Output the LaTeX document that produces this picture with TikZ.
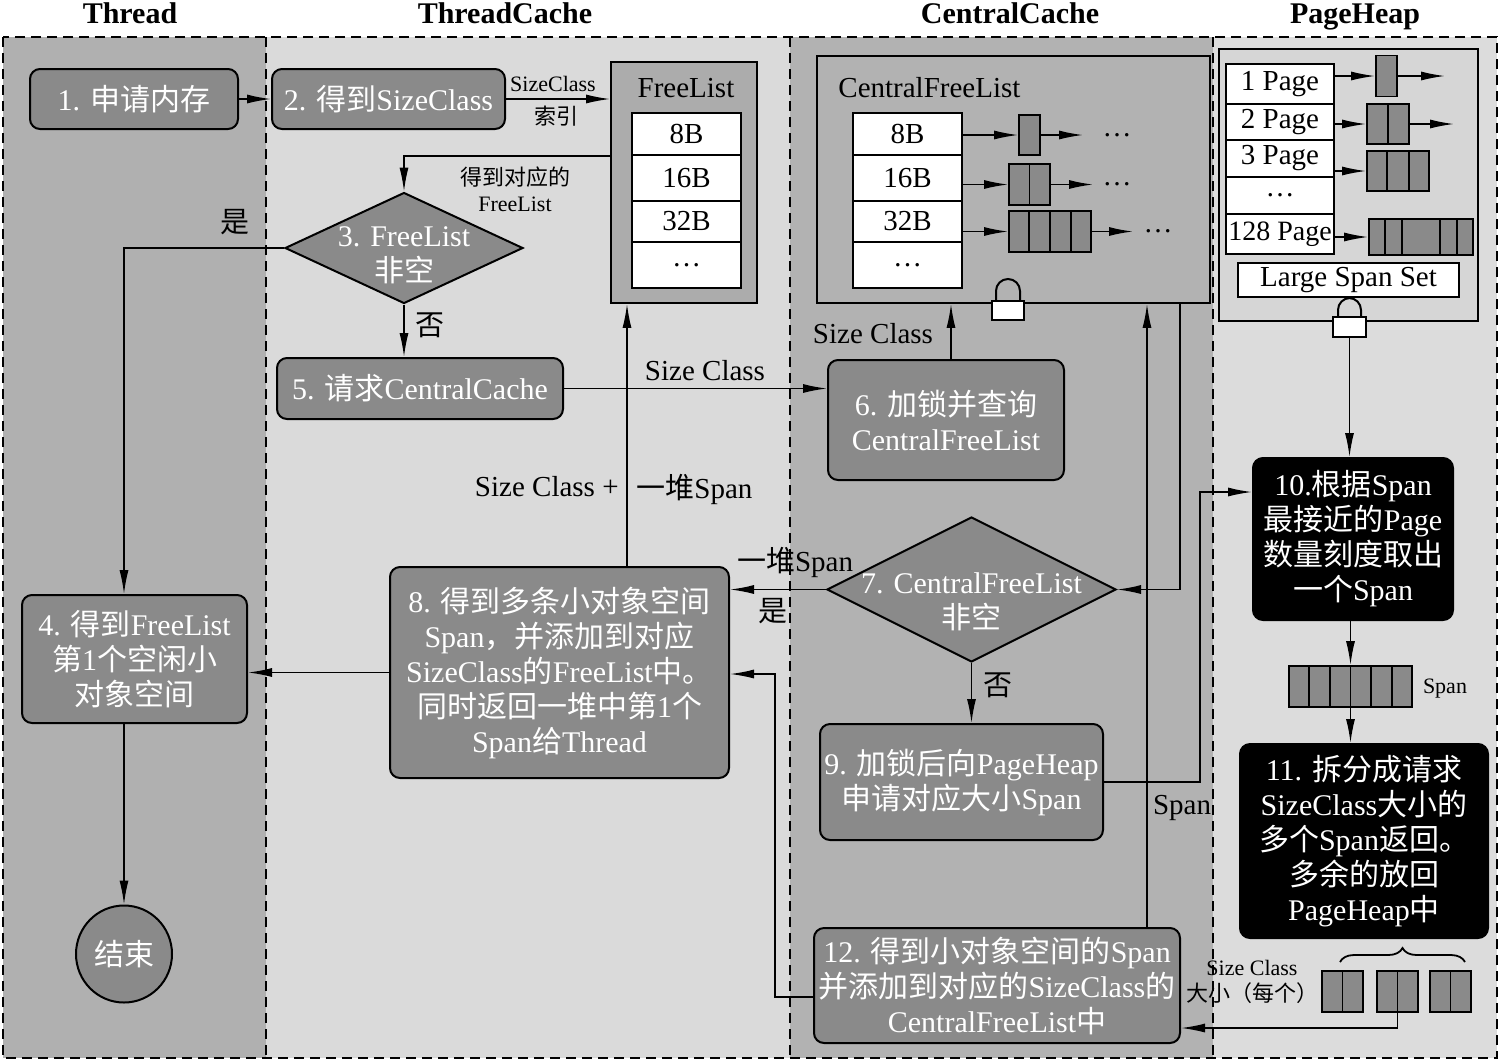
\documentclass[tikz,border=0pt]{standalone}
\usepackage{fontspec}
\setmainfont{Liberation Serif}
\newfontfamily\cjkf{Noto Sans CJK SC}
\usetikzlibrary{arrows.meta,shapes.geometric,calc,decorations.pathreplacing}
\newcommand\zw[1]{{\cjkf #1}}
\newcommand\fBox{\fontsize{15}{17.5}\selectfont}
\newcommand\fCell{\fontsize{14.5}{16}\selectfont}
\newcommand\fSmall{\fontsize{11}{13}\selectfont}
\newcommand\fMid{\fontsize{14.5}{16}\selectfont}
\newcommand\fHead{\fontsize{15}{18}\selectfont\bfseries}
\newcommand\blkdiv[2]{\foreach \f in {#2}{\draw[divl] ($(#1.north west)!\f!(#1.north east)$) -- ($(#1.south west)!\f!(#1.south east)$);}}
\definecolor{colA}{RGB}{176,176,176}
\definecolor{colB}{RGB}{218,218,218}
\definecolor{colC}{RGB}{178,178,178}
\definecolor{colD}{RGB}{220,220,220}
\definecolor{boxg}{RGB}{138,138,138}
\definecolor{medg}{RGB}{172,172,172}
\definecolor{phg}{RGB}{214,214,214}
\tikzset{
 procbox/.style={draw=black, line width=1pt, fill=boxg, rounded corners=5pt, text=white, align=center, inner sep=0pt, font=\fBox},
 blackbox/.style={procbox, fill=black},
 dia/.style={draw=black, line width=1pt, fill=boxg, diamond, inner sep=0pt},
 wtxt/.style={text=white, align=center, font=\fBox, inner sep=0pt},
 cellbox/.style={draw=black, line width=0.9pt, fill=white, inner sep=0pt, font=\fCell, minimum width=54.5pt},
 spanblk/.style={draw=black, line width=0.9pt, fill=boxg, inner sep=0pt},
 outerbox/.style={draw=black, line width=0.9pt, inner sep=0pt},
 arw/.style={line width=0.75pt, -{Latex[length=12pt,width=4.5pt]}},
 plain/.style={line width=0.75pt},
 divl/.style={line width=0.9pt},
 smalltxt/.style={font=\fSmall, inner sep=1pt, align=center},
 midtxt/.style={font=\fMid, inner sep=1pt, align=center},
 headtxt/.style={font=\fHead, inner sep=0pt, anchor=base},
 lockbody/.style={draw=black, line width=1pt, fill=white, inner sep=0pt},
 framel/.style={line width=1pt, dash pattern=on 5pt off 3pt},
}
\begin{document}
\begin{tikzpicture}[x=0.5pt,y=-0.5pt]
\useasboundingbox (0,0) rectangle (1500,1062);
\fill[white] (0,0) rectangle (1500,1062);
% columns
\fill[colA] (3,37) rectangle (266,1058);
\fill[colB] (266,37) rectangle (790,1058);
\fill[colC] (790,37) rectangle (1213,1058);
\fill[colD] (1213,37) rectangle (1497,1058);
\draw[framel] (3,37) rectangle (1497,1058);
\draw[framel] (266,37) -- (266,1058);
\draw[framel] (790,37) -- (790,1058);
\draw[framel] (1213,37) -- (1213,1058);
% headings
\node[headtxt] (hT) at (130,23) {Thread};
\node[headtxt] (hTC) at (505,23) {ThreadCache};
\node[headtxt] (hCC) at (1010,23) {CentralCache};
\node[headtxt] (hPH) at (1355,23) {PageHeap};

% FreeList (ThreadCache)
\node[outerbox, fill=medg, minimum width=73pt, minimum height=120.5pt] (fl) at (684,182.5) {};
\node[midtxt] (flt) at (686,88) {FreeList};
\node[cellbox, minimum height=21pt] (f8) at (686.5,134) {8B};
\node[cellbox, minimum height=23pt] (f16) at (686.5,178) {16B};
\node[cellbox, minimum height=20.5pt] (f32) at (686.5,221.5) {32B};
\node[cellbox, minimum height=23pt] (fdots) at (686.5,265) {…};

% CentralFreeList
\node[outerbox, fill=colC, minimum width=196.5pt, minimum height=123.5pt] (cfl) at (1013.5,179.5) {};
\node[midtxt, anchor=west] (cflt) at (836,88) {CentralFreeList};
\node[cellbox, minimum height=21pt] (c8) at (907.5,134) {8B};
\node[cellbox, minimum height=23pt] (c16) at (907.5,178) {16B};
\node[cellbox, minimum height=20.5pt] (c32) at (907.5,221.5) {32B};
\node[cellbox, minimum height=23pt] (cdots) at (907.5,265) {…};
\node[spanblk, minimum width=10.5pt, minimum height=20pt] (s8) at (1029.5,135) {};
\node[spanblk, minimum width=20.5pt, minimum height=20.5pt] (s16) at (1029.5,184.5) {};
\node[spanblk, minimum width=41pt, minimum height=20.5pt] (s32) at (1050,231.5) {};
\blkdiv{s16}{0.5}
\blkdiv{s32}{0.25,0.5,0.75}
\coordinate (e8) at (1083,135);
\coordinate (e16) at (1093,184.5);
\coordinate (e32) at (1133,231.5);
\node[midtxt] (d8) at (1117,135) {…};
\node[midtxt] (d16) at (1117,184.5) {…};
\node[midtxt] (d32) at (1158,231.5) {…};
\draw[arw] (c8.east |- s8.west) -- (s8.west);
\draw[arw] (s8.east) -- (e8);
\draw[arw] (c16.east |- s16.west) -- (s16.west);
\draw[arw] (s16.east) -- (e16);
\draw[arw] (c32.east |- s32.west) -- (s32.west);
\draw[arw] (s32.east) -- (e32);
% lock 1
\draw[line width=1pt, rounded corners=6pt] (996,302) -- (996,279) -- (1020,279) -- (1020,302);
\node[lockbody, minimum width=16pt, minimum height=9.5pt] (lk1) at (1008,310.5) {};

% PageHeap
\node[outerbox, fill=phg, minimum width=129.5pt, minimum height=136pt] (phb) at (1348.5,185) {};
\node[cellbox, minimum width=54pt, minimum height=20pt] (pc1) at (1280,84) {1 Page};
\node[cellbox, minimum width=54pt, minimum height=18pt] (pc2) at (1280,122) {2 Page};
\node[cellbox, minimum width=54pt, minimum height=18.5pt] (pc3) at (1280,158.5) {3 Page};
\node[cellbox, minimum width=54pt, minimum height=18.5pt] (pcd) at (1280,195.5) {…};
\node[cellbox, minimum width=54pt, minimum height=20pt, font=\fontsize{14}{16}\selectfont] (pc128) at (1280,234) {128 Page};
\node[spanblk, minimum width=10.5pt, minimum height=20.5pt] (pb1) at (1386.5,76) {};
\node[spanblk, minimum width=21pt, minimum height=20pt] (pb2) at (1388,124) {};
\node[spanblk, minimum width=31pt, minimum height=20pt] (pb3) at (1398,171) {};
\node[spanblk, minimum width=52pt, minimum height=18pt] (pb128) at (1421,237) {};
\blkdiv{pb2}{0.5}
\blkdiv{pb3}{0.3333,0.6667}
\blkdiv{pb128}{0.163,0.317,0.683,0.837}
\coordinate (pe1) at (1445,76);
\coordinate (pe2) at (1454,124);
\draw[arw] (pc1.east |- pb1.west) -- (pb1.west);
\draw[arw] (pb1.east) -- (pe1);
\draw[arw] (pc2.east |- pb2.west) -- (pb2.west);
\draw[arw] (pb2.east) -- (pe2);
\draw[arw] (pc3.east |- pb3.west) -- (pb3.west);
\draw[arw] (pc128.east |- pb128.west) -- (pb128.west);
\node[cellbox, minimum width=110.5pt, minimum height=17pt] (lss) at (1348.5,280) {Large Span Set};
% lock 2
\draw[line width=1pt, rounded corners=6pt] (1338,318) -- (1338,298) -- (1361,298) -- (1361,318);
\node[lockbody, minimum width=16.5pt, minimum height=10pt] (lk2) at (1349.5,327) {};

% process nodes
\node[procbox, minimum width=104pt, minimum height=30pt] (b1) at (134,99) {1. \zw{申请内存}};
\node[procbox, minimum width=116.5pt, minimum height=30pt] (b2) at (388.5,99) {2. \zw{得到}SizeClass};
\node[dia, minimum width=119pt, minimum height=55.5pt] (d3) at (404,248) {};
\node[wtxt] (d3t) at (404,255) {3. FreeList\\\zw{非空}};
\node[procbox, minimum width=112.5pt, minimum height=64pt] (b4) at (134.5,659) {4. \zw{得到}FreeList\\\zw{第}1\zw{个空闲小}\\\zw{对象空间}};
\node[draw=black, line width=1pt, fill=boxg, ellipse, minimum width=48pt, minimum height=48.5pt, inner sep=0pt, text=white, font=\fBox] (endc) at (124,954) {\zw{结束}};
\node[procbox, minimum width=143pt, minimum height=30.5pt] (b5) at (420,388.5) {5. \zw{请求}CentralCache};
\node[procbox, minimum width=118pt, minimum height=60pt] (b6) at (946,420) {6. \zw{加锁并查询}\\CentralFreeList};
\node[dia, minimum width=144.5pt, minimum height=72.5pt] (d7) at (971.5,589.5) {};
\node[wtxt] (d7t) at (971.5,602) {7. CentralFreeList\\\zw{非空}};
\node[procbox, minimum width=169.5pt, minimum height=105.5pt] (b8) at (559.5,672.5) {8. \zw{得到多条小对象空间}\\Span\zw{，并添加到对应}\\SizeClass\zw{的}FreeList\zw{中。}\\\zw{同时返回一堆中第}1\zw{个}\\Span\zw{给}Thread};
\node[procbox, minimum width=141.5pt, minimum height=58pt] (b9) at (961.5,782) {9. \zw{加锁后向}PageHeap\\\zw{申请对应大小}Span};
\node[blackbox, minimum width=100pt, minimum height=81pt] (b10) at (1353,539) {10.\zw{根据}Span\\\zw{最接近的}Page\\\zw{数量刻度取出}\\\zw{一个}Span};
\node[spanblk, minimum width=61.5pt, minimum height=20.5pt] (spn) at (1350.5,686.5) {};
\blkdiv{spn}{0.1667,0.3333,0.5,0.6667,0.8333}
\node[smalltxt] (spnl) at (1445,689) {Span};
\node[blackbox, minimum width=124pt, minimum height=97pt] (b11) at (1364,841) {11. \zw{拆分成请求}\\SizeClass\zw{大小的}\\\zw{多个}Span\zw{返回。}\\\zw{多余的放回}\\PageHeap\zw{中}};
\node[spanblk, minimum width=20.5pt, minimum height=20.5pt] (q1) at (1342.5,991.5) {};
\node[spanblk, minimum width=20.5pt, minimum height=20.5pt] (q2) at (1397.5,991.5) {};
\node[spanblk, minimum width=20.5pt, minimum height=20.5pt] (q3) at (1450.5,991.5) {};
\blkdiv{q1}{0.5}
\blkdiv{q2}{0.5}
\blkdiv{q3}{0.5}
\draw[line width=0.9pt, decorate, decoration={brace, amplitude=7pt}] (1340,962) -- (1465,962);
\node[smalltxt] (scl) at (1252,982) {Size Class\\\zw{大小（每个）}};
\node[procbox, minimum width=183pt, minimum height=57.5pt] (b12) at (997,985.5) {12. \zw{得到小对象空间的}Span\\\zw{并添加到对应的}SizeClass\zw{的}\\CentralFreeList\zw{中}};

% labels
\node[smalltxt] (lsc) at (553,84) {SizeClass};
\node[smalltxt] (lsy) at (556,116) {\zw{索引}};
\node[smalltxt] (ldd) at (515,189) {\zw{得到对应的}\\FreeList};
\node[midtxt] (lyes1) at (235,222) {\zw{是}};
\node[midtxt] (lno1) at (430,325) {\zw{否}};
\node[midtxt] (lsc5) at (705,371) {Size Class};
\node[midtxt] (lsc6) at (873,334) {Size Class};
\node[midtxt, anchor=east] (lscp) at (621,487) {Size Class +};
\node[midtxt, anchor=west] (lpile) at (634,489) {\zw{一堆}Span};
\node[midtxt] (lpile2) at (795,562) {\zw{一堆}Span};
\node[midtxt] (lyes2) at (773,611) {\zw{是}};
\node[midtxt] (lno2) at (998,685) {\zw{否}};
\node[midtxt] (lspan) at (1182,808) {Span};

% connectors
\draw[arw] (b1.east) -- (b2.west);
\draw[arw] (b2.east) -- (b2.east -| fl.west);
\draw[arw] (fl.west |- f8.south) -| (d3.north);
\draw[arw] (d3.west) -| (endc |- b4.north);
\draw[arw] (d3.south) -- (d3.south |- b5.north);
\draw[arw] (b5.east) -- (b5.east -| b6.west);
\draw[arw] ($(b6.north)+(5,0)$) -- ($(b6.north |- cfl.south)+(5,0)$);
\coordinate (xa) at (1180,0);
\draw[arw] (cfl.south -| xa) |- (d7.east);
\draw[arw] (d7.west) -- (d7.west -| b8.east);
\draw[arw] (d7.south) -- (d7.south |- b9.north);
\coordinate (xc) at (627,0);
\draw[arw] (b8.north -| xc) -- (fl.south -| xc);
\draw[arw] (b8.west) -- (b8.west -| b4.east);
\draw[arw] (endc |- b4.south) -- (endc.north);
\coordinate (j1) at (1200,492);
\draw[arw] (b9.east) -| (j1) -- (j1 -| b10.west);
\draw[arw] (lk2.south) -- (lk2.south |- b10.north);
\draw[arw] (spn |- b10.south) -- (spn.north);
\draw[arw] (spn.south) -- (spn.south |- b11.north);
\coordinate (k3) at (1397.5,1028);
\draw[arw] (q2.south) -- (k3) -- (k3 -| b12.east);
\coordinate (xb) at (1147,0);
\draw[arw] (b12.north -| xb) -- (cfl.south -| xb);
\coordinate (k1) at (775,674);
\draw[arw] ($(b12.west)+(0,11.5)$) -| (k1) -- (k1 -| b8.east);
\end{tikzpicture}
\end{document}
